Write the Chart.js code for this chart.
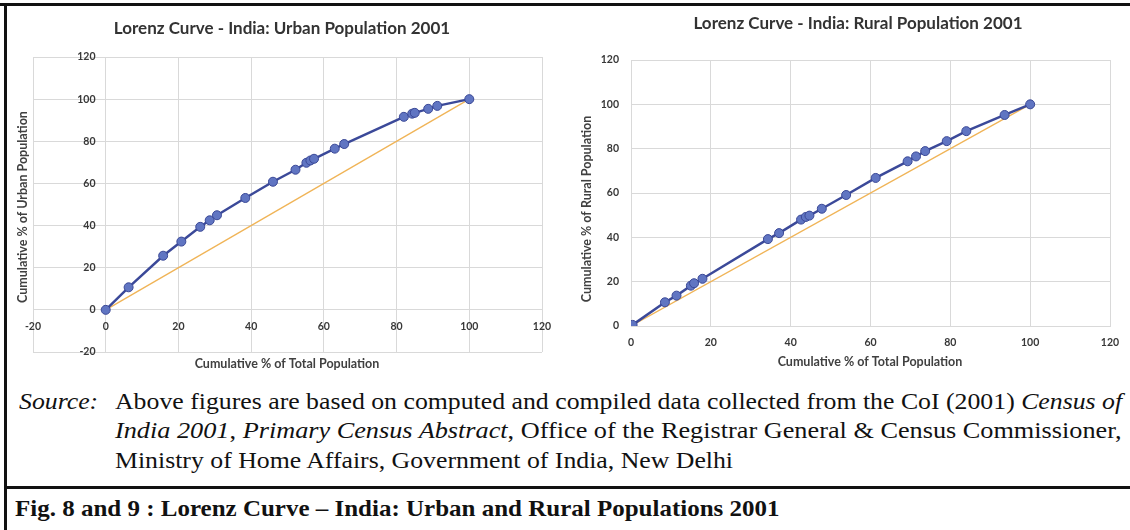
<!DOCTYPE html>
<html>
<head>
<meta charset="utf-8">
<script src="https://cdn.jsdelivr.net/npm/chart.js@4/dist/chart.umd.min.js"></script>
<style>
  html, body { margin: 0; padding: 0; background: #fff; }
  #page { position: relative; width: 1130px; height: 530px; overflow: hidden; background: #fff; }
  .box { position: absolute; }
  .rule { position: absolute; background: #111; }
  .txt { position: absolute; font-family: "Liberation Serif", "Times New Roman", serif; font-size: 22.5px; line-height: 29px; color: #111; }
  .txt span { display: inline-block; white-space: nowrap; transform-origin: 0 50%; }
  .cap { font-weight: bold; }
</style>
</head>
<body>
<div id="page">
  <div class="box" style="left:0;top:0;width:565px;height:380px"><canvas id="urban"></canvas></div>
  <div class="box" style="left:565px;top:0;width:565px;height:380px"><canvas id="rural"></canvas></div>

  <div class="txt" style="left:19px;top:387px"><span id="s0"><i>Source:</i></span></div>
  <div class="txt" style="left:115px;top:387px"><span id="s1">Above figures are based on computed and compiled data collected from the CoI (2001) <i>Census of</i></span></div>
  <div class="txt" style="left:115px;top:416px"><span id="s2"><i>India 2001</i>, <i>Primary Census Abstract</i>, Office of the Registrar General &amp; Census Commissioner,</span></div>
  <div class="txt" style="left:115px;top:446px"><span id="s3">Ministry of Home Affairs, Government of India, New Delhi</span></div>
  <div class="txt cap" style="left:15px;top:494px"><span id="s4">Fig. 8 and 9 : Lorenz Curve – India: Urban and Rural Populations 2001</span></div>

  <div class="rule" style="left:0;top:3px;width:1130px;height:3px"></div>
  <div class="rule" style="left:4px;top:3px;width:3px;height:527px"></div>
  <div class="rule" style="left:4px;top:486px;width:1126px;height:3px"></div>
</div>

<script>
// cumulative % of total population (x) and of urban / rural population (y)
const urbanX = [0, 6.3, 15.8, 20.8, 26.0, 28.6, 30.6, 38.4, 46.0, 52.2, 55.2, 56.3, 57.3, 63.0, 65.6, 82.0, 84.3, 85.0, 88.7, 91.2, 100];
const urbanY = [0, 10.7, 25.7, 32.4, 39.4, 42.5, 44.9, 53.1, 60.8, 66.5, 69.8, 70.9, 71.7, 76.5, 78.7, 91.6, 93.1, 93.5, 95.4, 96.8, 100];

const ruralX = [0.4, 8.5, 11.4, 15.0, 15.8, 17.9, 34.3, 37.1, 42.6, 43.8, 44.7, 47.8, 53.9, 61.3, 69.3, 71.4, 73.7, 79.1, 84.0, 93.6, 100];
const ruralY = [0.5, 10.7, 13.7, 18.2, 19.3, 21.3, 39.2, 41.9, 48.0, 49.2, 49.8, 52.9, 59.1, 66.8, 74.3, 76.5, 78.9, 83.4, 87.9, 95.2, 100];

// line of equality
const equalX = [0, 100];
const equalY = [0, 100];

const urbanTicks = [-20, 0, 20, 40, 60, 80, 100, 120];
const ruralTicks = [0, 20, 40, 60, 80, 100, 120];

const titles = {
    urban: "Lorenz Curve - India: Urban Population 2001",
    rural: "Lorenz Curve - India: Rural Population 2001",
    x: "Cumulative % of Total Population",
    yUrban: "Cumulative % of Urban Population",
    yRural: "Cumulative % of Rural Population"
};

// stretch the note lines to the widths they have in the figure
function fit(id, w) {
    const el = document.getElementById(id);
    const k = w / el.offsetWidth;
    el.style.transform = "scaleX(" + k + ")";
    return k;
}
const k1 = fit("s1", 1007);
fit("s2", 1007);
document.getElementById("s0").style.transform = "scaleX(" + k1 + ")";
document.getElementById("s3").style.transform = "scaleX(" + k1 + ")";
fit("s4", 764);

function toPoints(xs, ys) {
    return xs.map((x, i) => ({ x: x, y: ys[i] }));
}

// titles drawn straight on the canvas
const figText = {
    id: "figText",
    afterDraw(chart, args, o) {
        const ctx = chart.ctx;
        ctx.save();
        ctx.fillStyle = "#333";
        ctx.textAlign = "center";
        ctx.textBaseline = "middle";
        ctx.font = "bold 17px Lato";
        ctx.fillText(o.title, o.titleX, o.titleY);
        ctx.fillStyle = "#404040";
        ctx.font = "bold 12.5px Lato";
        ctx.fillText(o.xTitle, o.xTitleX, o.xTitleY);
        ctx.translate(o.yTitleX, o.yTitleY);
        ctx.rotate(-Math.PI / 2);
        ctx.fillText(o.yTitle, 0, 0);
        ctx.restore();
    }
};

function lorenzDatasets(xs, ys) {
    return [
        {
            data: toPoints(xs, ys),
            showLine: true,
            borderColor: "#3B4999",
            borderWidth: 2.5,
            pointRadius: 4.5,
            pointBackgroundColor: "#6075C2",
            pointBorderColor: "#3A4896",
            pointBorderWidth: 1
        },
        {
            data: toPoints(equalX, equalY),
            showLine: true,
            borderColor: "#F0B457",
            borderWidth: 1.3,
            pointRadius: 0
        }
    ];
}

function axis(ticksList, extra, pad) {
    return Object.assign({
        type: "linear",
        min: ticksList[0],
        max: ticksList[ticksList.length - 1],
        grid: { color: "#d9d9d9", drawTicks: false },
        border: { color: "#d9d9d9" },
        ticks: {
            stepSize: 20,
            autoSkip: false,
            padding: pad,
            color: "#383838",
            font: { family: "Lato", size: 10.5, weight: "bold" }
        }
    }, extra);
}

Chart.defaults.animation = false;

// urban chart: axes cross at 0, Excel style
new Chart(document.getElementById("urban"), {
    type: "scatter",
    data: { datasets: lorenzDatasets(urbanX, urbanY) },
    plugins: [figText],
    options: {
        responsive: true,
        maintainAspectRatio: false,
        layout: { padding: { left: 33, top: 57, right: 23, bottom: 28 } },
        scales: {
            x: axis(urbanTicks, { position: { y: 0 }, afterFit: s => { s.height = 0; } }, 10),
            // labels sit right-aligned on the axis pixel, so nudge it left of 0
            y: axis(urbanTicks, {
                position: { x: -2.8 },
                border: { display: false },
                afterFit: s => { s.width = 0; }
            }, 0)
        },
        plugins: {
            legend: { display: false },
            tooltip: { enabled: false },
            figText: {
                title: titles.urban, titleX: 282, titleY: 29,
                xTitle: titles.x, xTitleX: 287, xTitleY: 364,
                yTitle: titles.yUrban, yTitleX: 23, yTitleY: 207
            }
        }
    }
});

new Chart(document.getElementById("rural"), {
    type: "scatter",
    data: { datasets: lorenzDatasets(ruralX, ruralY) },
    plugins: [figText],
    options: {
        responsive: true,
        maintainAspectRatio: false,
        layout: { padding: { left: 0, top: 60, right: 20, bottom: 0 } },
        scales: {
            x: axis(ruralTicks, { position: "bottom", afterFit: s => { s.height = 54; } }, 10),
            y: axis(ruralTicks, { position: "left", afterFit: s => { s.width = 66; } }, 12)
        },
        plugins: {
            legend: { display: false },
            tooltip: { enabled: false },
            figText: {
                title: titles.rural, titleX: 293, titleY: 24,
                xTitle: titles.x, xTitleX: 305, xTitleY: 362,
                yTitle: titles.yRural, yTitleX: 22, yTitleY: 209
            }
        }
    }
});
</script>
</body>
</html>
